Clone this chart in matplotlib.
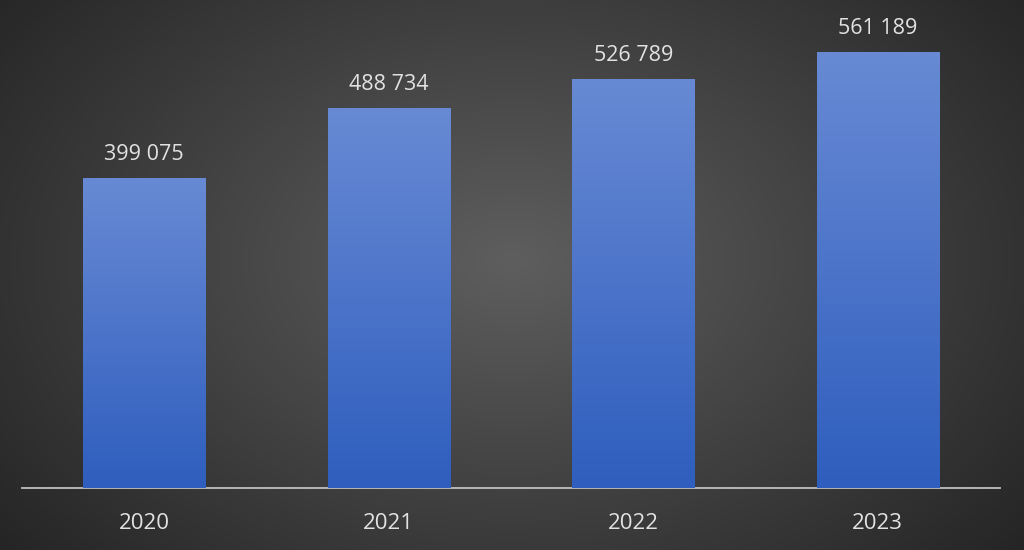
import matplotlib
matplotlib.use('Agg')
import matplotlib.pyplot as plt
import numpy as np

years = ['2020', '2021', '2022', '2023']
values = [399075, 488734, 526789, 561189]
labels = ['399 075', '488 734', '526 789', '561 189']

plt.rcParams['font.family'] = ['Open Sans', 'DejaVu Sans']

fig = plt.figure(figsize=(10.24, 5.5), dpi=100)

# radial gradient background
bg = fig.add_axes([0, 0, 1, 1])
yy, xx = np.mgrid[0:550, 0:1024]
r = np.sqrt(((xx - 512) / 620.0) ** 2 + ((yy - 260) / 420.0) ** 2)
g = np.clip(0.37 - 0.21 * r, 0.13, 0.37)
bg.imshow(np.dstack([g, g, g]), aspect='auto', extent=[0, 1, 0, 1])
bg.set_axis_off()

ax = fig.add_axes([22 / 1024, 62 / 550, 978 / 1024, 488 / 550])
ax.patch.set_alpha(0)
x = np.arange(len(years))
bars = ax.bar(x, values, width=0.5, color='#4a72c8', edgecolor='#2b3e66', linewidth=0.6, zorder=2)

ymax = 561189 * 488 / 436

# vertical gradient inside each bar
grad = np.linspace(0, 1, 256).reshape(-1, 1)
top = np.array([0x68, 0x8a, 0xd4]) / 255
bot = np.array([0x2f, 0x5e, 0xbe]) / 255
img = bot + (top - bot) * grad[:, :, None] * np.ones((1, 1, 3))
for b in bars:
    x0, w, h = b.get_x(), b.get_width(), b.get_height()
    im = ax.imshow(img, origin='lower', aspect='auto', extent=[x0, x0 + w, 0, h], zorder=3)
    im.set_clip_path(b)

ax.set_xlim(-0.5, 3.5)
ax.set_ylim(0, ymax)

for xi, v, lab in zip(x, values, labels):
    ax.text(xi, v + ymax * 0.027, lab, ha='center', va='bottom', color='#e2e2e2', fontsize=15.5)

for s in ['top', 'right', 'left']:
    ax.spines[s].set_visible(False)
ax.spines['bottom'].set_color('#c0c0c0')
ax.spines['bottom'].set_linewidth(1.3)
ax.set_yticks([])
ax.set_xticks(x)
ax.set_xticklabels(years, color='#e2e2e2', fontsize=16)
ax.tick_params(axis='x', length=0, pad=18)

fig.savefig('out.png', dpi=100)
